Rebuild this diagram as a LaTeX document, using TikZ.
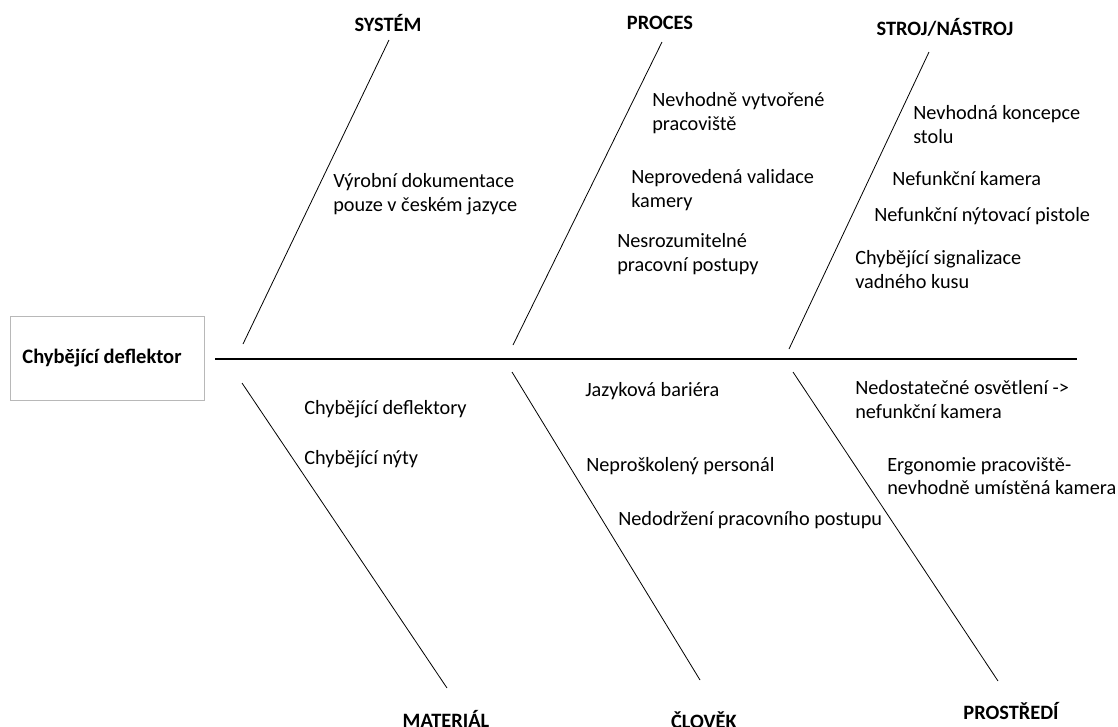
\documentclass[tikz,border=0pt]{standalone}
\usepackage{fontspec}
\setmainfont{Carlito}
\begin{document}
\begin{tikzpicture}[x=0.75pt,y=-0.75pt,
  bone/.style={draw=black,line width=0.6pt},
  spine/.style={draw=black,line width=0.8pt},
  cause/.style={anchor=north west,inner sep=0pt,align=left,
    font=\fontsize{15.2}{17.8}\selectfont,execute at begin node={\strut}},
  category/.style={anchor=center,inner sep=0pt,
    font=\fontsize{15.3}{18}\selectfont\bfseries},
  headbox/.style={draw=black!28,line width=0.6pt,inner sep=0pt},
  headtext/.style={inner sep=0pt,font=\fontsize{15.4}{18}\selectfont\bfseries}]
\useasboundingbox (0,0) rectangle (1118,726);

% effect box and spine
\node[headbox,minimum width=145.5pt,minimum height=63pt] (head) at (107,358) {};
\node[headtext] (headlbl) at ([xshift=-3.75pt]head.center) {Chybějící deflektor};
\coordinate (spL) at (215,359);
\coordinate (spR) at (1077,359);
\draw[spine] (spL) -- (spR);

% upper bones
\coordinate (sysB) at (243,344);  \coordinate (sysT) at (389,40);
\coordinate (proB) at (513,345);  \coordinate (proT) at (662,42);
\coordinate (strB) at (789,349);  \coordinate (strT) at (929,52);
\draw[bone] (sysB) -- (sysT);
\draw[bone] (proB) -- (proT);
\draw[bone] (strB) -- (strT);

% lower bones
\coordinate (matT) at (242,383);  \coordinate (matB) at (447,688);
\coordinate (cloT) at (512,372);  \coordinate (cloB) at (700,680);
\coordinate (prsT) at (793,372);  \coordinate (prsB) at (998,681);
\draw[bone] (matT) -- (matB);
\draw[bone] (cloT) -- (cloB);
\draw[bone] (prsT) -- (prsB);

% category labels
\node[category] (sys) at (388,23) {SYSTÉM};
\node[category] (pro) at (660,23) {PROCES};
\node[category] (str) at (945,27) {STROJ/NÁSTROJ};
\node[category] (mat) at (446,719) {MATERIÁL};
\node[category] (clo) at (704,720) {ČLOVĚK};
\node[category] (prs) at (1011,711) {PROSTŘEDÍ};

% causes: system
\node[cause] (c1) at (333,173) {Výrobní dokumentace\\pouze v českém jazyce};
% causes: process
\node[cause] (c2) at (652,92) {Nevhodně vytvořené\\pracoviště};
\node[cause] (c3) at (631,169) {Neprovedená validace\\kamery};
\node[cause] (c4) at (617,233) {Nesrozumitelné\\pracovní postupy};
% causes: machine / tool
\node[cause] (c5) at (913,105) {Nevhodná koncepce\\stolu};
\node[cause] (c6) at (892,169) {Nefunkční kamera};
\node[cause] (c7) at (874,205) {Nefunkční nýtovací pistole};
\node[cause] (c8) at (855,250) {Chybějící signalizace\\vadného kusu};
% causes: material
\node[cause] (c9) at (304,398) {Chybějící deflektory};
\node[cause] (c10) at (304,448) {Chybějící nýty};
% causes: people
\node[cause] (c11) at (585,380) {Jazyková bariéra};
\node[cause] (c12) at (586,455) {Neproškolený personál};
\node[cause] (c13) at (618,509) {Nedodržení pracovního postupu};
% causes: environment
\node[cause] (c14) at (855,380) {Nedostatečné osvětlení ->\\nefunkční kamera};
\node[cause] (c15) at (887,457) {Ergonomie pracoviště-\\nevhodně umístěná kamera};
\end{tikzpicture}
\end{document}
